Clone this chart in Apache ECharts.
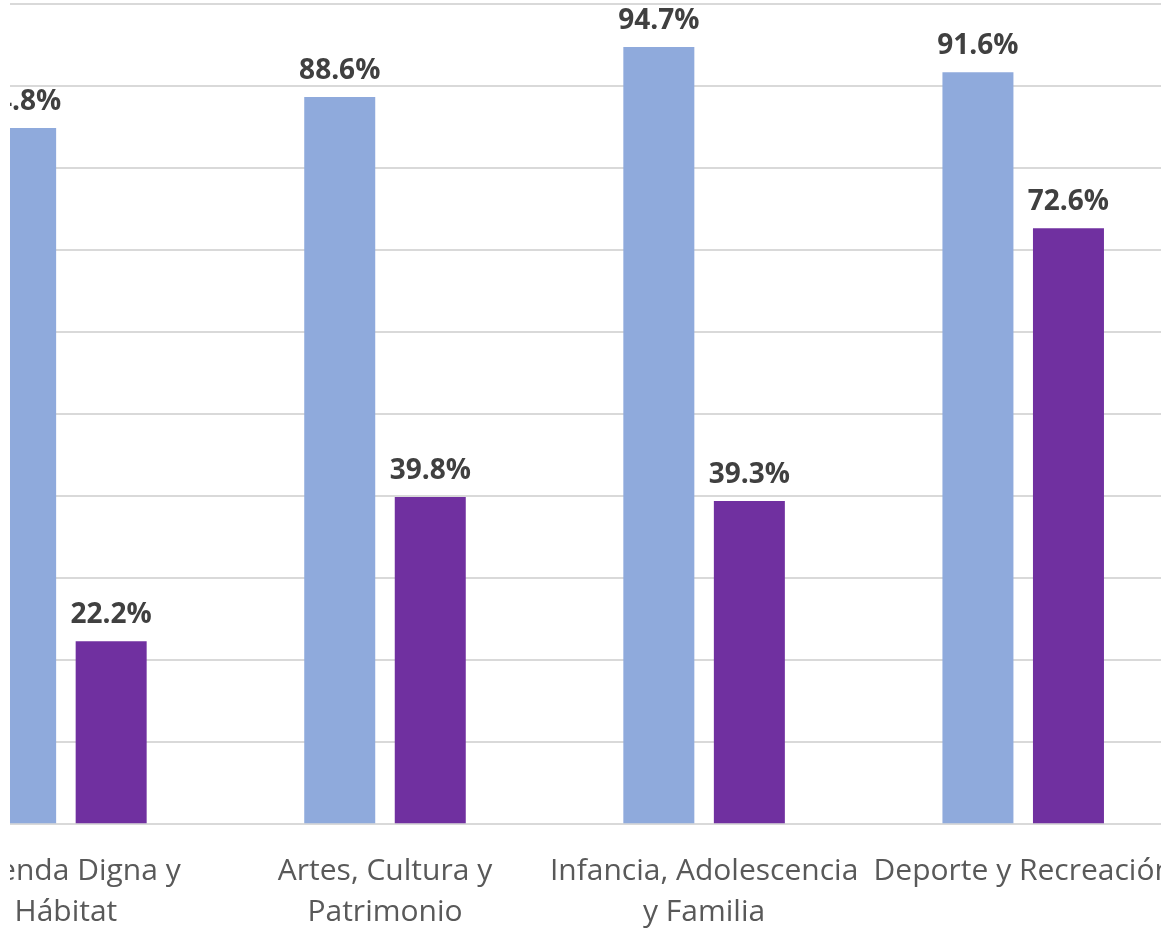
<!DOCTYPE html>
<html>
<head>
<meta charset="utf-8">
<script src="https://cdn.jsdelivr.net/npm/echarts@6/dist/echarts.min.js"></script>
<style>
  html, body { margin: 0; padding: 0; background: #ffffff; }
  #clip { position: absolute; left: 10px; top: 0; width: 1151px; height: 930px; overflow: hidden; background: #fff; }
  #chart { position: absolute; left: -150px; top: 0; width: 1451px; height: 930px; }
</style>
</head>
<body>
<div id="clip"><div id="chart"></div></div>
<script>
const categories = [
  'Vivienda Digna y\nHábitat',
  'Artes, Cultura y\nPatrimonio',
  'Infancia, Adolescencia\ny Familia',
  'Deporte y Recreación'
];
const seriesA = [84.8, 88.6, 94.7, 91.6];
const seriesB = [22.2, 39.8, 39.3, 72.6];
const yTicks = { min: 0, max: 100, interval: 10 };

const chart = echarts.init(document.getElementById('chart'), null, { renderer: 'canvas' });
const labelStyle = {
  show: true,
  position: 'top',
  distance: 12,
  fontFamily: 'Open Sans',
  fontWeight: 'bold',
  fontSize: 28,
  color: '#404040',
  formatter: p => p.value.toFixed(1) + '%'
};
chart.setOption({
  animation: false,
  backgroundColor: '#ffffff',
  grid: { left: 46.35, width: 1276.4, top: 3.5, bottom: 106.7, containLabel: false, outerBoundsMode: 'none' },
  xAxis: {
    type: 'category',
    data: categories,
    axisLine: { show: true, lineStyle: { color: '#d9d9d9', width: 2 } },
    axisTick: { show: false },
    axisLabel: {
      interval: 0,
      margin: 28,
      fontFamily: 'Open Sans',
      fontSize: 30,
      lineHeight: 41,
      color: '#595959',
      align: 'center'
    }
  },
  yAxis: {
    type: 'value',
    min: yTicks.min, max: yTicks.max, interval: yTicks.interval,
    axisLabel: { show: false },
    axisLine: { show: false },
    axisTick: { show: false },
    splitLine: { lineStyle: { color: '#d9d9d9', width: 2 } }
  },
  series: [
    { name: 'Serie 1', type: 'bar', data: seriesA, barWidth: 71, barGap: '27.5%',
      itemStyle: { color: '#8faadc' }, label: labelStyle },
    { name: 'Serie 2', type: 'bar', data: seriesB, barWidth: 71, barGap: '27.5%',
      itemStyle: { color: '#7030a0' }, label: labelStyle }
  ]
});
</script>
</body>
</html>
